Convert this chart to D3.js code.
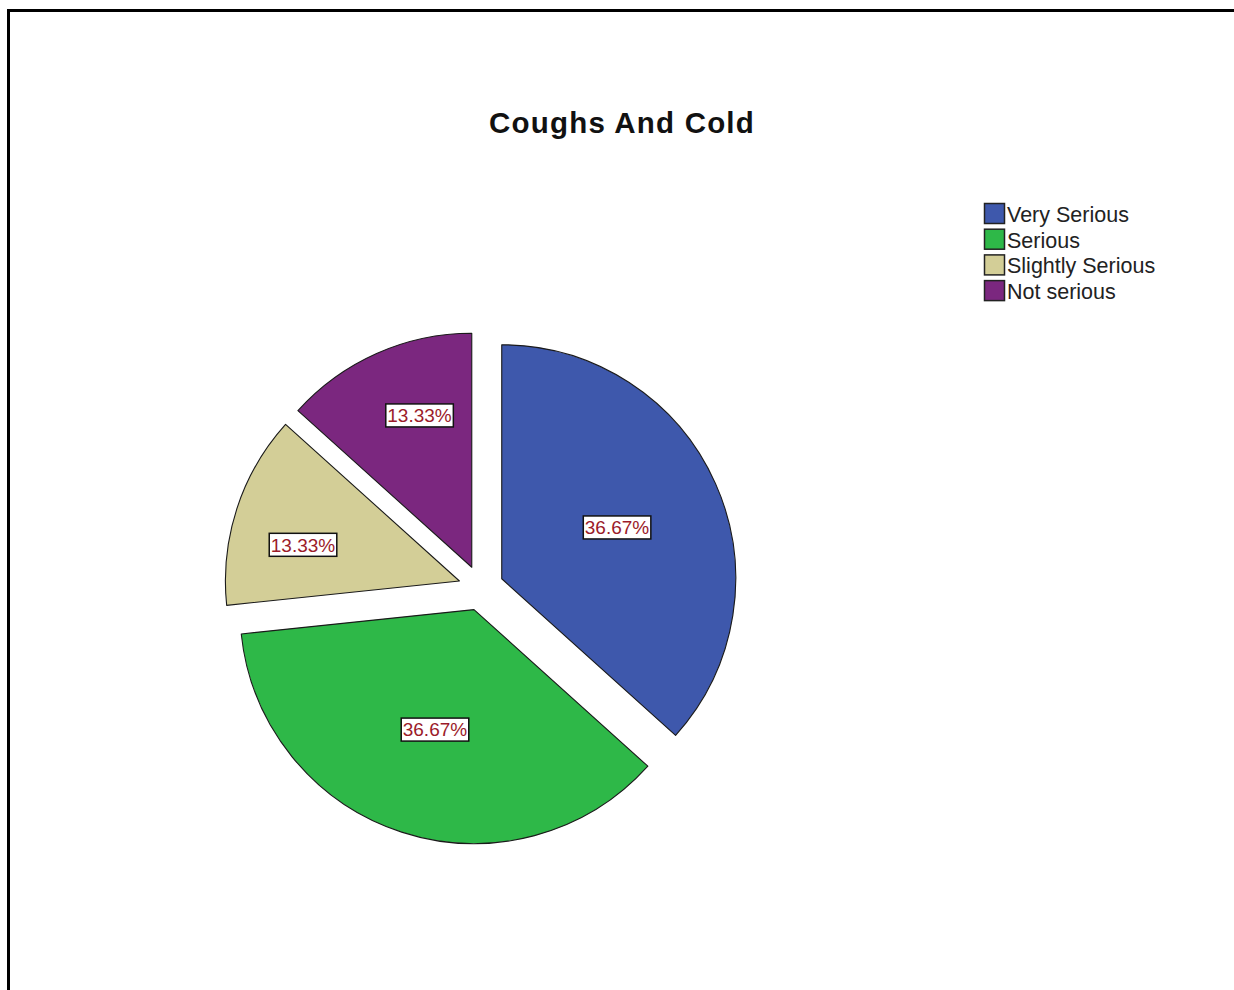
<!DOCTYPE html>
<html><head><meta charset="utf-8">
<script src="https://cdn.jsdelivr.net/npm/d3@7/dist/d3.min.js"></script>
<style>body{margin:0;background:#fff}svg{display:block}</style>
</head><body>
<script>
const categories = ["Very Serious", "Serious", "Slightly Serious", "Not serious"];
const values = [36.67, 36.67, 13.33, 13.33];
const labels = ["36.67%", "36.67%", "13.33%", "13.33%"];
const colors = ["#3E58AC", "#2EB848", "#D3CE97", "#7B277F"];
const title = "Coughs And Cold";

const W = 1234, H = 990;
const svg = d3.select("body").append("svg").attr("width", W).attr("height", H);

// frame
svg.append("path").attr("d", `M8.5,${H} L8.5,10.5 L${W},10.5`)
  .attr("fill", "none").attr("stroke", "#000").attr("stroke-width", 3);

svg.append("text").attr("x", 622).attr("y", 133).attr("text-anchor", "middle")
  .attr("font-family", "Arial, 'Liberation Sans', sans-serif").attr("font-weight", "bold")
  .attr("font-size", 29.5).attr("letter-spacing", 1.2).attr("fill", "#111").text(title);

const cx = 481, cy = 588, r = 234, explode = 22.7;
const pie = d3.pie().sort(null).value(d => d)(values);
const arc = d3.arc().innerRadius(0).outerRadius(r);

const g = svg.append("g").attr("transform", `translate(${cx},${cy})`);
const slices = g.selectAll("g.slice").data(pie).join("g").attr("class", "slice")
  .attr("transform", d => {
    const m = (d.startAngle + d.endAngle) / 2;
    return `translate(${Math.sin(m) * explode},${-Math.cos(m) * explode})`;
  });
slices.append("path").attr("d", arc).attr("fill", (d, i) => colors[i])
  .attr("stroke", "#1a1a1a").attr("stroke-width", 1.1).attr("stroke-linejoin", "round");

// labels near sector centroid; labels of adjacent small slices pushed apart
const small = a => a < 0.6;
slices.each(function(d, i) {
  let m = (d.startAngle + d.endAngle) / 2;
  const a = (d.endAngle - d.startAngle) / 2;
  const n = pie.length;
  const prev = pie[(i - 1 + n) % n], next = pie[(i + 1) % n];
  const half = p => (p.endAngle - p.startAngle) / 2;
  if (small(a)) {
    const nudge = 5 * Math.PI / 180;
    if (small(half(prev))) m += nudge;
    if (small(half(next))) m -= nudge;
  }
  const dist = 2 * r * Math.sin(a) / (3 * a) * (small(a) ? 1.06 : 1.02);
  const x = Math.sin(m) * dist, y = -Math.cos(m) * dist;
  const sel = d3.select(this);
  const t = sel.append("text").attr("x", x).attr("y", y).attr("dy", "0.36em")
    .attr("text-anchor", "middle").attr("font-family", "Arial, 'Liberation Sans', sans-serif")
    .attr("font-size", 19).attr("fill", "#9B1B2A").text(labels[i]);
  const bb = t.node().getBBox();
  sel.insert("rect", "text").attr("x", bb.x - 1.5).attr("y", y - 11.5)
    .attr("width", bb.width + 3).attr("height", 23)
    .attr("fill", "#fff").attr("stroke", "#111").attr("stroke-width", 1.5);
});

// legend
const lg = svg.append("g").attr("transform", "translate(984,203)");
const items = lg.selectAll("g").data(categories).join("g")
  .attr("transform", (d, i) => `translate(0,${i * 25.7})`);
items.append("rect").attr("x", 0.5).attr("y", 0.5).attr("width", 20).attr("height", 20)
  .attr("fill", (d, i) => colors[i]).attr("stroke", "#222").attr("stroke-width", 1.5);
items.append("text").attr("x", 23).attr("y", 19).attr("font-family", "Arial, 'Liberation Sans', sans-serif")
  .attr("font-size", 21.5).attr("fill", "#222").text(d => d);
</script>
</body></html>
